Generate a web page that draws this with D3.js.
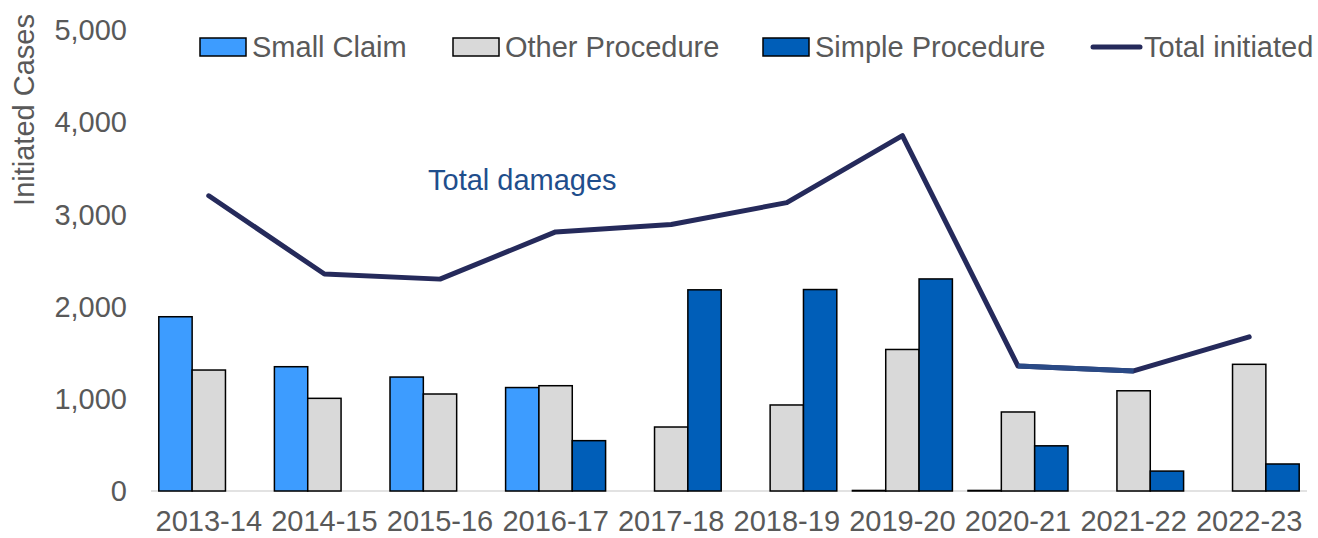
<!DOCTYPE html>
<html><head><meta charset="utf-8">
<script src="https://cdn.jsdelivr.net/npm/d3@7"></script>
<style>body{margin:0;background:#fff}svg{display:block}text{font-family:"Liberation Sans",Arial,sans-serif;}</style>
</head><body>
<svg id="c" width="1318" height="538"></svg>
<script>
const categories = ["2013-14","2014-15","2015-16","2016-17","2017-18","2018-19","2019-20","2020-21","2021-22","2022-23"];
const smallClaim = [1890, 1348, 1236, 1122, null, null, 6, 6, null, null];
const otherProcedure = [1312, 1005, 1052, 1142, 694, 933, 1535, 857, 1087, 1374];
const simpleProcedure = [null, null, null, 546, 2182, 2185, 2300, 490, 216, 293];
const totalInitiated = [3202, 2353, 2298, 2810, 2890, 3128, 3855, 1355, 1302, 1672];
const yTicks = [0, 1000, 2000, 3000, 4000, 5000];
const seriesNames = ["Small Claim", "Other Procedure", "Simple Procedure"];
const lineName = "Total initiated";
const annotation = "Total damages";
const yTitle = "Initiated Cases";

const colors = {"Small Claim":"#3D9CFF","Other Procedure":"#D9D9D9","Simple Procedure":"#005EB8"};
const lineColor = "#252A5B";
const textColor = "#595959";
const svg = d3.select("#c");
const FS = 29;

const x = d3.scaleBand().domain(categories).range([151,1307]).paddingInner(0.135).paddingOuter(0.0675);
const x1 = d3.scaleBand().domain(seriesNames).range([0, x.bandwidth()]);
const y = d3.scaleLinear().domain([0,5000]).range([491,30]);

const seriesVals = {"Small Claim":smallClaim,"Other Procedure":otherProcedure,"Simple Procedure":simpleProcedure};

// baseline
svg.append("line").attr("x1",151).attr("x2",1307).attr("y1",y(0)).attr("y2",y(0))
  .attr("stroke","#D9D9D9").attr("stroke-width",1.5);

// bars
seriesNames.forEach(s => {
  const data = categories.map((c,i)=>({c, v: seriesVals[s][i]})).filter(d=>d.v!=null);
  svg.append("g").selectAll("rect").data(data).join("rect")
    .attr("x", d=>x(d.c)+x1(s))
    .attr("y", d=>y(d.v))
    .attr("width", x1.bandwidth())
    .attr("height", d=>y(0)-y(d.v))
    .attr("fill", colors[s])
    .attr("stroke", "#000").attr("stroke-width", 1.5);
});

// line
const pts = categories.map((c,i)=>[x(c)+x.bandwidth()/2, y(totalInitiated[i])]);
const line = d3.line();
svg.append("path").attr("d", line(pts)).attr("fill","none").attr("stroke",lineColor)
  .attr("stroke-width",5).attr("stroke-linejoin","round").attr("stroke-linecap","round");
// segment with a bluer tint as in the reference
svg.append("path").attr("d", line(pts.slice(7,9))).attr("fill","none").attr("stroke","#2A4A86")
  .attr("stroke-width",5).attr("stroke-linecap","butt");

// y axis labels
svg.append("g").selectAll("text").data(yTicks).join("text")
  .attr("x",127).attr("y",d=>y(d)).attr("dy","0.35em").attr("text-anchor","end")
  .attr("font-size",FS).attr("fill",textColor).text(d3.format(","));

// x axis labels
svg.append("g").selectAll("text").data(categories).join("text")
  .attr("x",d=>x(d)+x.bandwidth()/2).attr("y",531).attr("text-anchor","middle")
  .attr("font-size",FS).attr("fill",textColor).text(d=>d);

// y title
svg.append("text").attr("transform","translate(34,110) rotate(-90)").attr("text-anchor","middle")
  .attr("font-size",FS).attr("fill",textColor).text(yTitle);

// annotation
svg.append("text").attr("x",428).attr("y",190).attr("font-size",FS).attr("fill","#1F4E8C").text(annotation);

// legend
const legX = [200, 453, 763];
seriesNames.forEach((s,i)=>{
  svg.append("rect").attr("x",legX[i]).attr("y",38).attr("width",46).attr("height",18)
    .attr("fill",colors[s]).attr("stroke","#000").attr("stroke-width",1.5);
  svg.append("text").attr("x",legX[i]+52).attr("y",47).attr("dy","0.35em")
    .attr("font-size",FS).attr("fill",textColor).text(s);
});
svg.append("line").attr("x1",1093).attr("x2",1140).attr("y1",47).attr("y2",47)
  .attr("stroke",lineColor).attr("stroke-width",5).attr("stroke-linecap","round");
svg.append("text").attr("x",1144).attr("y",47).attr("dy","0.35em")
  .attr("font-size",FS).attr("fill",textColor).text(lineName);
</script>
</body></html>
